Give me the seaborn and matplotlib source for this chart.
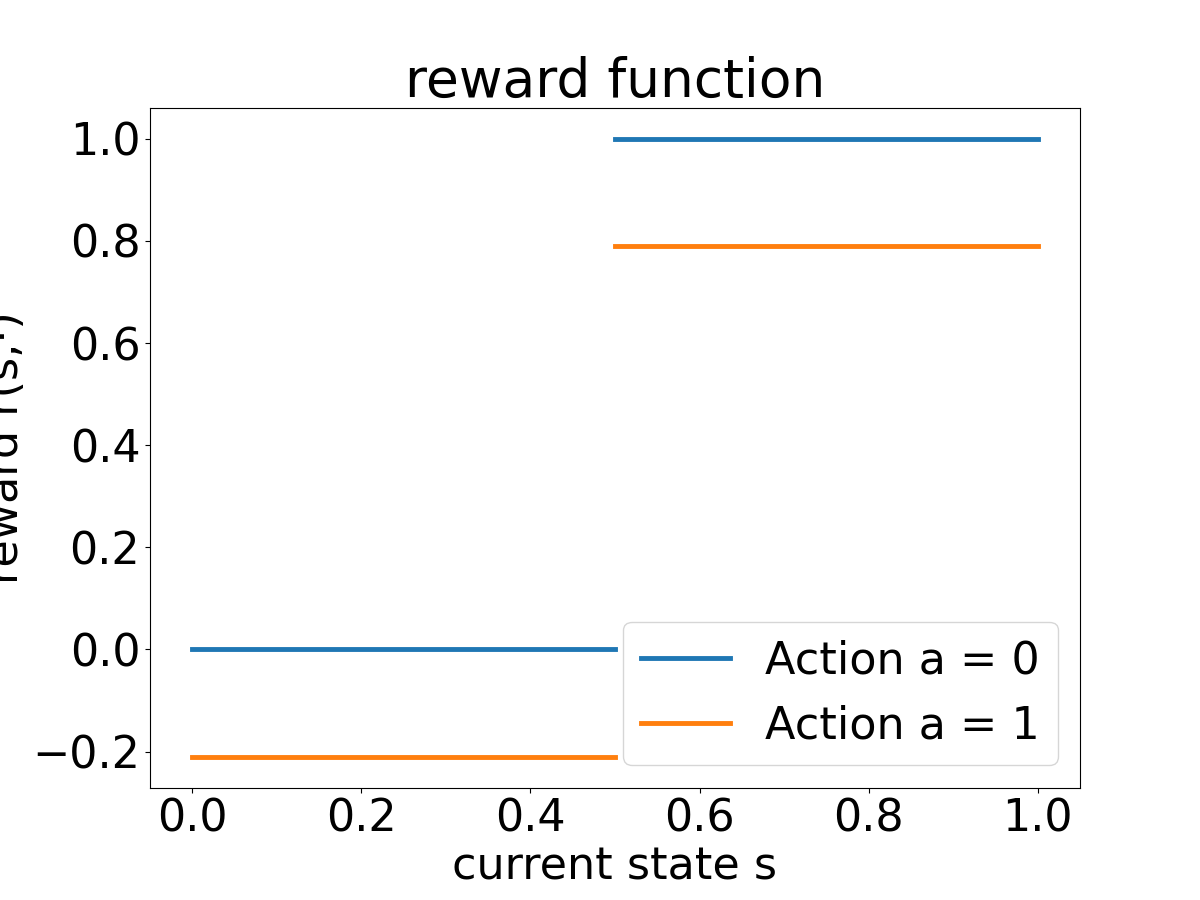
import matplotlib
matplotlib.use("Agg")
import matplotlib.pyplot as plt
import seaborn as sns

# data
seg_low_x = [0.0, 0.5]
seg_high_x = [0.5, 1.0]
a0_low = [0.0, 0.0]
a0_high = [1.0, 1.0]
a1_low = [-0.21, -0.21]
a1_high = [0.79, 0.79]
labels = ["Action a = 0", "Action a = 1"]

plt.rcParams['font.size'] = 32
fig, ax = plt.subplots(figsize=(12, 9), dpi=100)
fig.subplots_adjust(left=0.125, right=0.9, top=0.88, bottom=0.125)

c0, c1 = "#1f77b4", "#ff7f0e"
sns.lineplot(x=seg_low_x, y=a0_low, ax=ax, color=c0, linewidth=3.5, label=labels[0])
sns.lineplot(x=seg_high_x, y=a0_high, ax=ax, color=c0, linewidth=3.5)
sns.lineplot(x=seg_low_x, y=a1_low, ax=ax, color=c1, linewidth=3.5, label=labels[1])
sns.lineplot(x=seg_high_x, y=a1_high, ax=ax, color=c1, linewidth=3.5)

ax.set_title("reward function", fontsize=38.4)
ax.set_xlabel("current state s", fontsize=32)
ax.set_ylabel("reward r(s,·)", fontsize=32)
ax.tick_params(labelsize=32)
ax.legend(loc="lower right", fontsize=32)

fig.savefig("out.png", dpi=100)
